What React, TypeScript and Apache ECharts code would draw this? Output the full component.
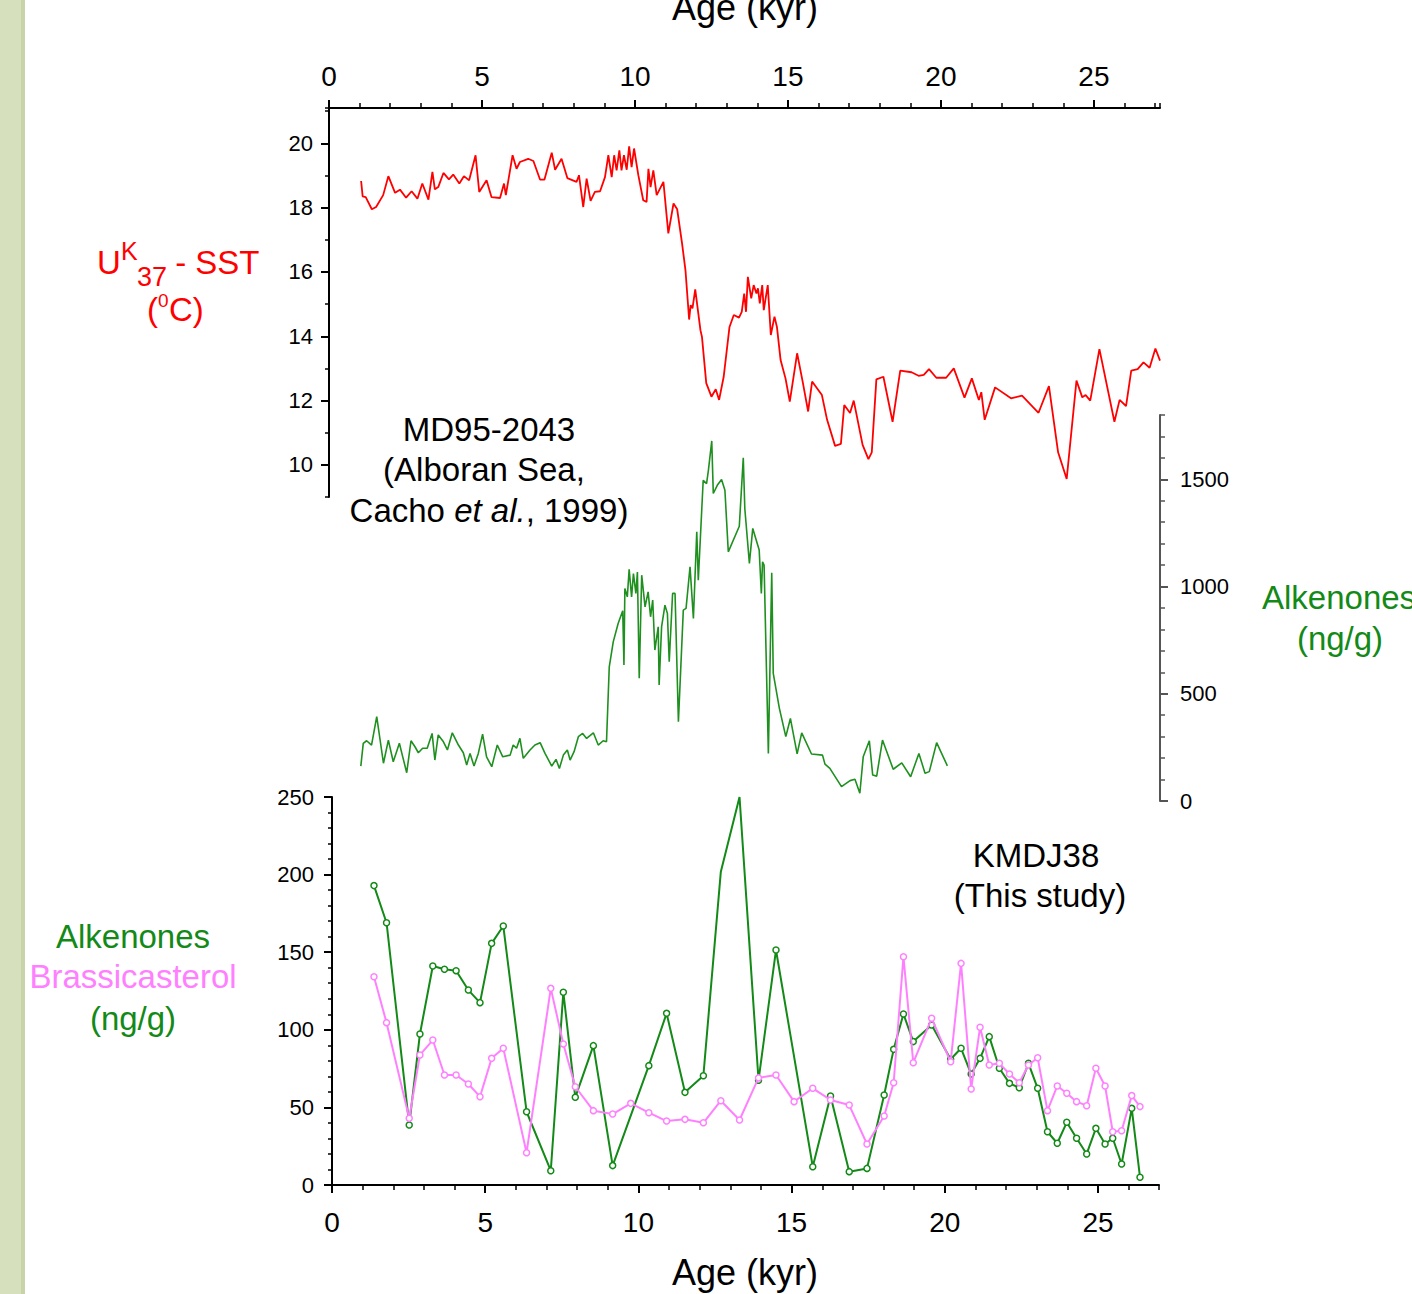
import React, { useEffect, useRef } from 'react';
import * as echarts from 'echarts';

// ---------- Data ----------
const sstAge = [
  1.05, 1.10, 1.20, 1.40, 1.54, 1.77, 1.94, 2.16, 2.32, 2.52, 2.70, 2.89, 3.05, 3.25, 3.38, 3.46, 3.57, 3.74, 3.92, 4.06,
  4.26, 4.41, 4.58, 4.79, 4.91, 5.15, 5.31, 5.59, 5.72, 5.78, 6.00, 6.13, 6.24, 6.51, 6.68, 6.90, 7.04, 7.28, 7.39, 7.60,
  7.79, 8.09, 8.17, 8.31, 8.42, 8.55, 8.69, 8.86, 9.02, 9.13, 9.24, 9.32, 9.40, 9.49, 9.56, 9.64, 9.73, 9.81, 9.89, 9.97,
  10.11, 10.27, 10.38, 10.44, 10.51, 10.60, 10.71, 10.93, 11.09, 11.26, 11.38, 11.54, 11.65, 11.77, 11.82, 11.88, 11.97,
  12.14, 12.19, 12.33, 12.50, 12.64, 12.75, 12.90, 13.09, 13.23, 13.40, 13.49, 13.57, 13.63, 13.69, 13.80, 13.88, 13.97,
  14.02, 14.08, 14.16, 14.21, 14.34, 14.44, 14.56, 14.64, 14.76, 14.92, 15.06, 15.30, 15.49, 15.66, 15.79, 16.11, 16.28,
  16.54, 16.73, 16.84, 17.03, 17.15, 17.44, 17.63, 17.74, 17.89, 18.12, 18.42, 18.67, 19.04, 19.27, 19.44, 19.61, 19.85,
  20.17, 20.42, 20.77, 21.01, 21.24, 21.32, 21.43, 21.77, 22.29, 22.65, 23.19, 23.53, 23.83, 24.11, 24.43, 24.62, 24.73,
  24.88, 25.18, 25.67, 25.84, 26.05, 26.22, 26.43, 26.62, 26.82, 27.01, 27.16,
];
const sstValue = [
  18.83, 18.35, 18.33, 17.95, 18.02, 18.39, 18.98, 18.46, 18.56, 18.31, 18.51, 18.28, 18.75, 18.25, 19.11, 18.57, 18.64,
  19.08, 18.88, 19.03, 18.75, 18.98, 18.85, 19.63, 18.49, 18.85, 18.33, 18.30, 18.75, 18.39, 19.63, 19.21, 19.42, 19.52,
  19.45, 18.87, 18.87, 19.71, 19.18, 19.52, 18.92, 18.80, 19.01, 18.02, 18.90, 18.21, 18.49, 18.51, 18.95, 19.63, 18.95,
  19.63, 19.16, 19.78, 19.16, 19.63, 19.18, 19.91, 19.26, 19.84, 19.01, 18.23, 18.18, 19.21, 18.64, 19.16, 18.39, 18.80,
  17.20, 18.13, 17.95, 16.88, 16.06, 14.52, 14.97, 14.87, 15.46, 14.19, 13.98, 12.54, 12.12, 12.35, 12.02, 12.74, 14.29,
  14.66, 14.58, 14.76, 15.33, 14.76, 15.85, 15.18, 15.59, 15.33, 15.49, 15.02, 15.59, 14.81, 15.59, 14.04, 14.61, 14.29,
  13.26, 12.69, 11.97, 13.47, 12.54, 11.66, 12.59, 12.17, 11.40, 10.59, 10.65, 11.86, 11.61, 12.00, 10.62, 10.18, 10.39,
  12.66, 12.74, 11.34, 12.93, 12.88, 12.77, 12.80, 12.98, 12.71, 12.71, 13.00, 12.09, 12.69, 12.02, 12.26, 11.40, 12.41,
  12.07, 12.15, 11.62, 12.45, 10.39, 9.56, 12.62, 12.10, 12.17, 12.00, 13.60, 11.34, 12.02, 11.83, 12.93, 12.98, 13.19,
  13.02, 13.62, 13.24,
];

const mdAge = [
  1.04, 1.12, 1.23, 1.39, 1.56, 1.78, 1.94, 2.10, 2.30, 2.41, 2.54, 2.68, 2.81, 2.92, 3.06, 3.21, 3.37, 3.46, 3.57, 3.74,
  3.87, 4.03, 4.23, 4.39, 4.50, 4.61, 4.74, 4.88, 5.02, 5.15, 5.32, 5.50, 5.68, 5.92, 6.02, 6.13, 6.24, 6.35, 6.57, 6.73,
  6.90, 7.06, 7.28, 7.42, 7.53, 7.66, 7.79, 7.88, 8.01, 8.15, 8.29, 8.42, 8.64, 8.80, 8.96, 9.07, 9.16, 9.29, 9.45, 9.60,
  9.64, 9.67, 9.75, 9.81, 9.89, 9.95, 10.03, 10.08, 10.14, 10.22, 10.33, 10.43, 10.51, 10.58, 10.65, 10.76, 10.79, 10.87,
  10.98, 11.06, 11.12, 11.23, 11.31, 11.42, 11.58, 11.67, 11.80, 11.91, 12.02, 12.07, 12.23, 12.34, 12.40, 12.51, 12.56,
  12.69, 12.83, 12.94, 13.05, 13.41, 13.54, 13.59, 13.74, 13.85, 14.06, 14.13, 14.17, 14.22, 14.36, 14.47, 14.52, 14.72,
  14.93, 15.08, 15.30, 15.45, 15.77, 16.13, 16.21, 16.37, 16.75, 17.03, 17.19, 17.35, 17.46, 17.66, 17.77, 17.90, 18.09,
  18.44, 18.72, 19.01, 19.28, 19.48, 19.62, 19.86, 20.21,
];
const mdValue = [
  163, 269, 281, 261, 393, 176, 284, 183, 269, 206, 132, 281, 253, 225, 246, 246, 315, 191, 308, 276,
  238, 318, 261, 225, 168, 222, 163, 222, 312, 206, 160, 261, 206, 214, 261, 246, 292, 199, 238, 261,
  272, 222, 163, 194, 152, 214, 238, 191, 230, 300, 315, 292, 318, 261, 281, 276, 626, 742, 828, 887,
  634, 991, 952, 1080, 952, 1061, 968, 1068, 572, 1053, 905, 975, 859, 937, 704, 812, 541, 812,
  913, 875, 649, 968, 968, 370, 890, 898, 1092, 851, 1255, 1030, 1496, 1480, 1542, 1679, 1434,
  1472, 1499, 1449, 1162, 1281, 1601, 1364, 1108, 1271, 1170, 968, 1115, 1100, 222, 1064, 595, 432,
  300, 385, 220, 318, 219, 214, 172, 152, 67, 95, 101, 36, 206, 281, 121, 116, 284,
  148, 178, 113, 222, 129, 137, 272, 164,
];

const kmAge = [
  1.37, 1.78, 2.52, 2.87, 3.29, 3.67, 4.05, 4.45, 4.83, 5.21, 5.59, 6.35, 7.14, 7.55, 7.94, 8.53, 9.16, 9.75, 10.34,
  10.92, 11.52, 12.12, 12.69, 13.30, 13.92, 14.49, 15.08, 15.69, 16.27, 16.88, 17.46, 18.02, 18.33, 18.65, 18.97, 19.57,
  20.19, 20.53, 20.86, 21.15, 21.45, 21.78, 22.11, 22.43, 22.73, 23.03, 23.35, 23.67, 23.98, 24.30, 24.63, 24.93, 25.23,
  25.48, 25.77, 26.10, 26.37,
];
const kmAlkenones = [
  192.9, 169.0, 38.7, 97.3, 141.1, 139.0, 138.1, 125.6, 117.5, 155.7, 166.9, 47.2, 9.2, 124.2, 56.5, 89.8, 12.5, null, 76.9,
  110.6, 59.7, 70.4, 201.9, 250, 67.5, 151.4, null, 11.8, 57.3, 8.6, 10.7, 58.0, 87.4, 110.2, 92.4, 103.1,
  81.0, 88.1, 71.5, 81.6, 95.6, 75.2, 65.5, 62.7, 78.4, 62.3, 34.3, 26.9, 40.4, 30.1, 20.0, 36.5, 26.4,
  30.1, 13.5, 49.4, 5.0,
];
const kmBrassicasterol = [
  134.2, 104.6, 43.0, 83.8, 93.4, 70.9, 70.9, 65.1, 56.9, 81.6, 88.1, 20.8, 126.7, 90.9, 63.3, 47.9, 45.7, 52.6, 46.6,
  41.2, 42.3, 40.1, 54.3, 41.9, 69.0, 70.9, 53.7, 62.3, 54.8, 51.5, 26.4, 44.5, 65.9, 147.1, 78.8, 107.4,
  79.4, 142.8, 61.9, 101.6, 77.3, 78.4, 71.5, 65.9, 77.3, 82.0, 47.9, 63.8, 59.1, 53.7, 51.1, 75.2, 63.8,
  34.3, 35.0, 57.6, 50.5,
];
// Alkenone samples drawn without a marker in the original figure
const unmarkedAlkenoneAges = [12.69, 13.30];

const ageTicks = [0, 5, 10, 15, 20, 25];
const sstTicks = [10, 12, 14, 16, 18, 20];
const mdTicks = [0, 500, 1000, 1500];

// ---------- Styles ----------
const FONT = '"Liberation Sans", Arial, Helvetica, sans-serif';
const RED = '#ff0000';
const GREEN = '#138a17';
const GREEN_MID = '#1f9020';
const PINK = '#ff80ff';

function zip(xs: number[], ys: (number | null)[]) {
  const out: any[] = [];
  xs.forEach((x, i) => {
    if (ys[i] !== null && ys[i] !== undefined) out.push([x, ys[i]]);
  });
  return out;
}

function txt(text: string, x: number, y: number, size: number, color: string, align = 'center', extra: any = {}) {
  return {
    type: 'text',
    x,
    y,
    z: 100,
    style: {
      text,
      fill: color,
      fontSize: size,
      fontFamily: FONT,
      align,
      verticalAlign: 'middle',
      textAlign: align,
      textVerticalAlign: 'middle',
      ...extra,
    },
  };
}

const plain = (v: number) => String(v);

export default function App() {
  const ref = useRef<HTMLDivElement>(null);

  useEffect(() => {
    if (!ref.current) return;
    const chart = echarts.init(ref.current, undefined, { renderer: 'svg' });

    const X_TOP_MAX = 27.16;
    const X_BOT_MAX = 26.99;

    const alkData = zip(kmAge, kmAlkenones).map((p) =>
      unmarkedAlkenoneAges.includes(p[0]) ? { value: p, symbol: 'none' } : p
    );

    const option: any = {
      animation: false,
      backgroundColor: '#ffffff',
      grid: [
        { left: 329, top: 108, width: 831, height: 389 },
        { left: 329, top: 415, width: 831, height: 386 },
        { left: 332, top: 797, width: 827, height: 388 },
      ],
      xAxis: [
        {
          gridIndex: 0, type: 'value', position: 'top', min: 0, max: X_TOP_MAX,
          axisLine: { show: true, onZero: false, lineStyle: { color: '#000', width: 2 } },
          axisTick: { show: true, customValues: ageTicks, length: 8, lineStyle: { color: '#000', width: 2 } },
          axisLabel: { customValues: ageTicks, fontSize: 28, color: '#000', fontFamily: FONT, margin: 18, formatter: plain },
          splitLine: { show: false },
        },
        {
          gridIndex: 0, type: 'value', position: 'top', min: 0, max: X_TOP_MAX, interval: 1,
          axisLine: { show: false, onZero: false },
          axisTick: { show: true, length: 5, lineStyle: { color: '#000', width: 1.5 } },
          axisLabel: { show: false },
          splitLine: { show: false },
        },
        {
          gridIndex: 1, type: 'value', min: 0, max: X_TOP_MAX, show: false,
          splitLine: { show: false },
        },
        {
          gridIndex: 2, type: 'value', position: 'bottom', min: 0, max: X_BOT_MAX,
          axisLine: { show: true, onZero: false, lineStyle: { color: '#000', width: 2 } },
          axisTick: { show: true, customValues: ageTicks, length: 8, lineStyle: { color: '#000', width: 2 } },
          axisLabel: { customValues: ageTicks, fontSize: 28, color: '#000', fontFamily: FONT, margin: 23, formatter: plain },
          splitLine: { show: false },
        },
        {
          gridIndex: 2, type: 'value', position: 'bottom', min: 0, max: X_BOT_MAX, interval: 1,
          axisLine: { show: false, onZero: false },
          axisTick: { show: true, length: 5, lineStyle: { color: '#000', width: 1.5 } },
          axisLabel: { show: false },
          splitLine: { show: false },
        },
      ],
      yAxis: [
        {
          gridIndex: 0, type: 'value', position: 'left', min: 9, max: 21.1,
          axisLine: { show: true, onZero: false, lineStyle: { color: '#000', width: 2 } },
          axisTick: { show: true, customValues: sstTicks, length: 8, lineStyle: { color: '#000', width: 2 } },
          axisLabel: { customValues: sstTicks, fontSize: 22, color: '#000', fontFamily: FONT, margin: 16, formatter: plain },
          splitLine: { show: false },
        },
        {
          gridIndex: 0, type: 'value', position: 'left', min: 9, max: 21.1, interval: 1,
          axisLine: { show: false, onZero: false },
          axisTick: { show: true, length: 4, lineStyle: { color: '#000', width: 1.5 } },
          axisLabel: { show: false },
          splitLine: { show: false },
        },
        {
          gridIndex: 1, type: 'value', position: 'right', min: 0, max: 1800,
          axisLine: { show: true, onZero: false, lineStyle: { color: '#555', width: 2 } },
          axisTick: { show: true, customValues: mdTicks, length: 8, lineStyle: { color: '#555', width: 2 } },
          axisLabel: { customValues: mdTicks, fontSize: 22, color: '#000', fontFamily: FONT, margin: 20, formatter: plain },
          splitLine: { show: false },
        },
        {
          gridIndex: 1, type: 'value', position: 'right', min: 0, max: 1800, interval: 100,
          axisLine: { show: false, onZero: false },
          axisTick: { show: true, length: 5, lineStyle: { color: '#555', width: 1.5 } },
          axisLabel: { show: false },
          splitLine: { show: false },
        },
        {
          gridIndex: 2, type: 'value', position: 'left', min: 0, max: 250, interval: 50,
          axisLine: { show: true, onZero: false, lineStyle: { color: '#000', width: 2 } },
          axisTick: { show: true, length: 8, lineStyle: { color: '#000', width: 2 } },
          minorTick: { show: true, splitNumber: 5, length: 4, lineStyle: { color: '#000', width: 1.5 } },
          axisLabel: { fontSize: 22, color: '#000', fontFamily: FONT, margin: 18, formatter: plain },
          splitLine: { show: false },
          minorSplitLine: { show: false },
        },
      ],
      series: [
        {
          name: 'SST', type: 'line', xAxisIndex: 0, yAxisIndex: 0,
          data: zip(sstAge, sstValue), showSymbol: false, symbol: 'none',
          lineStyle: { color: RED, width: 1.8 }, itemStyle: { color: RED },
          emphasis: { disabled: true }, silent: true,
        },
        {
          name: 'MD95-2043 Alkenones', type: 'line', xAxisIndex: 2, yAxisIndex: 2,
          data: zip(mdAge, mdValue), showSymbol: false, symbol: 'none',
          lineStyle: { color: GREEN_MID, width: 1.6 }, itemStyle: { color: GREEN_MID },
          emphasis: { disabled: true }, silent: true,
        },
        {
          name: 'KMDJ38 Alkenones', type: 'line', xAxisIndex: 3, yAxisIndex: 4,
          data: alkData, symbol: 'circle', symbolSize: 6, showSymbol: true, showAllSymbol: true,
          lineStyle: { color: GREEN, width: 2 },
          itemStyle: { color: '#ffffff', borderColor: GREEN, borderWidth: 1.5 },
          emphasis: { disabled: true }, silent: true, z: 3,
        },
        {
          name: 'KMDJ38 Brassicasterol', type: 'line', xAxisIndex: 3, yAxisIndex: 4,
          data: zip(kmAge, kmBrassicasterol), symbol: 'circle', symbolSize: 6, showSymbol: true, showAllSymbol: true,
          lineStyle: { color: PINK, width: 2 },
          itemStyle: { color: '#ffffff', borderColor: PINK, borderWidth: 1.5 },
          emphasis: { disabled: true }, silent: true, z: 4,
        },
      ],
      graphic: [
        { type: 'rect', shape: { x: 0, y: 0, width: 21, height: 1294 }, style: { fill: '#d6e0bd' }, z: 0 },
        { type: 'rect', shape: { x: 21, y: 0, width: 4, height: 1294 }, style: { fill: '#c8d3aa' }, z: 0 },
        txt('Age (kyr)', 745, 7, 36, '#000'),
        txt('Age (kyr)', 745, 1272, 36, '#000'),
        // U^K_37 - SST (°C)
        txt('U', 97, 262, 33, RED, 'left'),
        txt('K', 121, 251, 25, RED, 'left'),
        txt('37', 137, 277, 27, RED, 'left'),
        txt(' - SST', 166, 262, 33, RED, 'left'),
        txt('(', 147, 309, 33, RED, 'left'),
        txt('0', 158, 300, 19, RED, 'left'),
        txt('C)', 169, 309, 33, RED, 'left'),
        // MD95-2043 annotation
        txt('MD95-2043', 489, 429, 33, '#000'),
        txt('(Alboran Sea,', 484, 469, 33, '#000'),
        {
          type: 'text', x: 489, y: 510, z: 100,
          style: {
            text: 'Cacho {i|et al.}, 1999)',
            fill: '#000', fontSize: 33, fontFamily: FONT,
            align: 'center', verticalAlign: 'middle', textAlign: 'center', textVerticalAlign: 'middle',
            rich: { i: { fontStyle: 'italic', fontSize: 33, fontFamily: FONT, fill: '#000', color: '#000' } },
          },
        },
        // right axis title
        txt('Alkenones', 1262, 597, 33, GREEN, 'left'),
        txt('(ng/g)', 1340, 638, 33, GREEN),
        // KMDJ38 annotation
        txt('KMDJ38', 1036, 855, 33, '#000'),
        txt('(This study)', 1040, 895, 33, '#000'),
        // bottom-left axis title
        txt('Alkenones', 133, 936, 33, GREEN),
        txt('Brassicasterol', 133, 976, 33, PINK),
        txt('(ng/g)', 133, 1018, 33, GREEN),
      ],
    };

    chart.setOption(option);
    return () => chart.dispose();
  }, []);

  return (
    <div
      ref={ref}
      style={{ position: 'absolute', left: 0, top: 0, width: 1412, height: 1294, background: '#fff' }}
    />
  );
}
